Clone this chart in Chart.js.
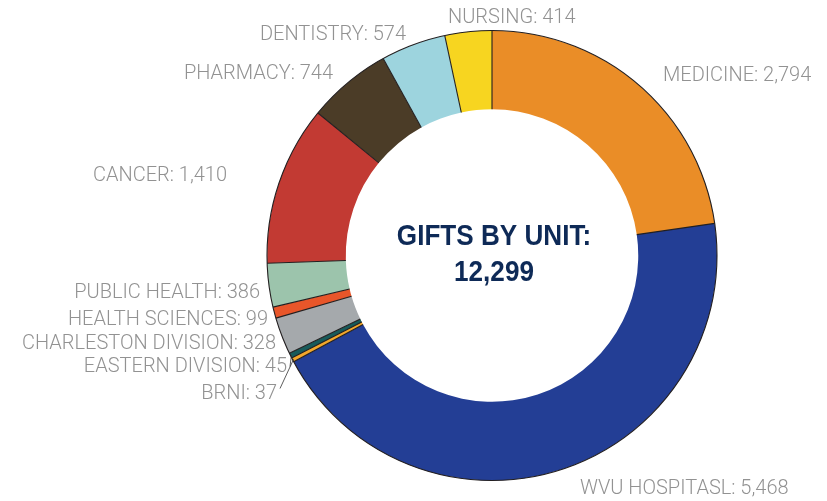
<!DOCTYPE html>
<html lang="en">
<head>
<meta charset="UTF-8">
<title>Gifts by Unit</title>
<script src="https://cdn.jsdelivr.net/npm/chart.js@4"></script>
<style>
  html, body { margin: 0; padding: 0; background: #fff; }
  #wrap { width: 827px; height: 501px; }
</style>
</head>
<body>
<div id="wrap"><canvas id="myChart" width="827" height="501"></canvas></div>
<script>
// data (clockwise from 12 o'clock)
const units = ['MEDICINE', 'WVU HOSPITASL', 'BRNI', 'EASTERN DIVISION', 'CHARLESTON DIVISION',
               'HEALTH SCIENCES', 'PUBLIC HEALTH', 'CANCER', 'PHARMACY', 'DENTISTRY', 'NURSING'];
const gifts = [2794, 5468, 37, 45, 328, 99, 386, 1410, 744, 574, 414];
const colors = ['#EA8D27', '#233E95', '#F2A72B', '#175B5A', '#A5A9AC',
                '#E8562A', '#9CC4AC', '#C23A33', '#4B3C27', '#9DD4DE', '#F7D520'];
const centerTitle = 'GIFTS BY UNIT:';

// label placement relative to donut centre: [dx, dy, align, leader]
const labelLayout = [
  [171, -180, 'left', false],
  [88, 233, 'left', false],
  [-215, 138, 'right', true],
  [-205, 111, 'right', true],
  [-216, 88, 'right', false],
  [-224, 64, 'right', false],
  [-232, 37, 'right', false],
  [-265, -80, 'right', false],
  [-159, -182, 'right', false],
  [-86, -221, 'right', false],
  [-44, -238, 'left', false]
];

const total = gifts.reduce((a, b) => a + b, 0);

const donutDecor = {
  id: 'donutDecor',
  afterDatasetsDraw(chart) {
    const { ctx } = chart;
    const arcs = chart.getDatasetMeta(0).data;
    const cx = arcs[0].x, cy = arcs[0].y;
    const outer = arcs[0].outerRadius, inner = arcs[0].innerRadius;
    ctx.save();
    // separators + outer rim
    ctx.strokeStyle = '#231F20';
    ctx.lineWidth = 1.1;
    arcs.forEach(a => {
      ctx.beginPath();
      ctx.moveTo(cx + inner * Math.cos(a.startAngle), cy + inner * Math.sin(a.startAngle));
      ctx.lineTo(cx + outer * Math.cos(a.startAngle), cy + outer * Math.sin(a.startAngle));
      ctx.stroke();
    });
    ctx.beginPath();
    ctx.arc(cx, cy, outer, 0, Math.PI * 2);
    ctx.stroke();

    // outside labels
    ctx.font = '300 20px Roboto, "Open Sans", "Liberation Sans", sans-serif';
    ctx.fillStyle = '#929292';
    ctx.textBaseline = 'middle';
    arcs.forEach((a, i) => {
      const [dx, dy, align, leader] = labelLayout[i];
      const txt = units[i] + ': ' + gifts[i].toLocaleString('en-US');
      ctx.textAlign = align;
      ctx.fillText(txt, cx + dx, cy + dy);
      if (leader) {
        const mid = (a.startAngle + a.endAngle) / 2;
        ctx.strokeStyle = '#333';
        ctx.lineWidth = 0.8;
        ctx.beginPath();
        ctx.moveTo(cx + dx + 3, cy + dy + (i === 2 ? -5 : 0));
        ctx.lineTo(cx + (outer - 1) * Math.cos(mid), cy + (outer - 1) * Math.sin(mid));
        ctx.stroke();
      }
    });

    // centre title
    ctx.fillStyle = '#0E2A57';
    ctx.textAlign = 'center';
    ctx.textBaseline = 'alphabetic';
    ctx.font = 'bold 30px "Liberation Sans", Arial, sans-serif';
    ctx.save();
    ctx.translate(cx + 2, 0);
    ctx.scale(0.87, 1);
    ctx.fillText(centerTitle, 0, cy - 11);
    ctx.fillText(total.toLocaleString('en-US'), 0, cy + 25);
    ctx.restore();
    ctx.restore();
  }
};

new Chart(document.getElementById('myChart'), {
  type: 'doughnut',
  data: {
    labels: units,
    datasets: [{
      data: gifts,
      backgroundColor: colors,
      borderWidth: 0
    }]
  },
  options: {
    responsive: false,
    animation: false,
    cutout: '65%',
    layout: { padding: { left: 267, right: 110, top: 30, bottom: 20 } },
    plugins: { legend: { display: false }, tooltip: { enabled: false } }
  },
  plugins: [donutDecor]
});
</script>
</body>
</html>
